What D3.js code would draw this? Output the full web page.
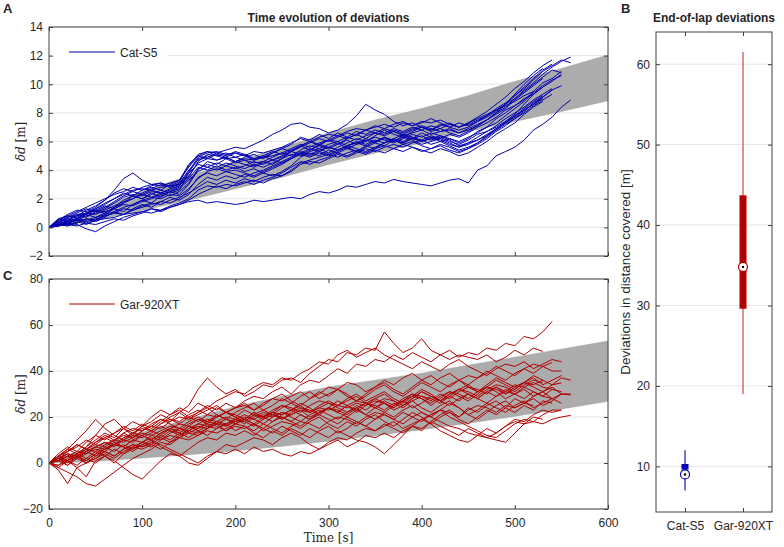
<!DOCTYPE html>
<html>
<head>
<meta charset="utf-8">
<script src="https://cdn.jsdelivr.net/npm/d3@7"></script>
<style>
  body { margin: 0; background: #fff; }
  text { font-family: "Liberation Sans", Arial, sans-serif; fill: #262626; }
</style>
</head>
<body>
<div id="chart"></div>
<script>
// sample times (s) shared by every trace, one sample each 10 s
var timeGrid = [0,10,20,30,40,50,60,70,80,90,100,110,120,130,140,150,160,170,180,190,
  200,210,220,230,240,250,260,270,280,290,300,310,320,330,340,350,360,370,380,390,
  400,410,420,430,440,450,460,470,480,490,500,510,520,530,540,550,560,570];

// grey envelope (time, lower, upper)
var bandTimes = [0,50,100,150,200,250,300,350,400,450,500,550,600];
var catLow  = [0,0.5,1.2,1.9,2.7,3.5,4.4,5.2,5.9,6.7,7.4,8.1,8.85];
var catHigh = [0,1.2,2.5,3.6,4.6,5.6,6.6,7.5,8.3,9.2,10.2,11.1,12.05];
var garLow  = [0,0.8,2.2,3.6,5.3,7.3,9.5,12,14.5,17.3,20.3,23.5,26.8];
var garHigh = [0,7.5,13.5,19,24.5,29,33,36,39,42.5,46,49.5,53];

// Cat-S5 deviation traces [m]
var catTraces = [
  [0,0.4,0.7,0.9,1.0,1.3,1.6,2.0,2.3,2.6,2.7,2.6,2.8,2.9,3.0,3.9,4.9,5.2,5.3,5.1,5.2,5.0,5.3,5.2,5.4,5.6,5.9,6.2,6.0,6.3,6.5,6.4,6.7,6.9,6.8,7.0,7.2,7.0,7.3,7.1,7.4,7.3,7.5,7.2,7.0,7.3,7.6,7.9,8.2,8.6,9.0,9.6,10.1,10.7,11.2,11.6,11.9],
  [0,0.2,0.5,0.8,1.2,1.5,1.9,2.4,2.7,2.5,2.8,3.0,2.9,3.1,3.3,4.2,5.0,5.3,5.2,5.4,5.6,5.5,5.8,6.1,6.5,6.8,7.2,7.3,7.0,6.9,6.6,6.8,7.2,7.8,8.6,8.2,7.9,7.4,7.1,7.3,7.0,6.8,7.1,7.3,7.0,7.2,7.5,7.8,8.3,8.7,9.2,9.8,10.4,11.0,11.4],
  [0,0.1,0.2,0.1,0.3,0.5,0.6,0.7,0.9,1.0,1.1,1.0,1.2,1.4,1.6,1.8,1.9,1.7,1.8,1.7,1.6,1.7,1.9,1.8,1.9,2.0,2.1,2.0,2.3,2.5,2.4,2.6,2.9,2.8,3.0,3.2,3.1,3.35,3.2,3.1,3.0,2.9,3.1,3.3,3.4,3.1,4.0,4.3,5.0,5.3,5.6,6.1,6.8,7.2,7.7,8.4,8.9],
  [0,0.3,0.6,0.5,0.8,1.0,1.3,1.7,2.1,2.3,2.2,2.5,2.4,2.6,2.9,3.6,4.5,4.8,4.7,4.9,4.6,4.8,4.7,4.9,5.0,5.2,5.5,5.8,5.6,5.9,6.1,6.0,6.3,6.1,6.4,6.6,6.5,6.8,6.6,6.9,7.1,6.9,6.7,6.8,6.6,6.9,7.2,7.5,7.9,8.3,8.9,9.4,9.9,10.4],
  [0,0.5,0.9,1.2,1.1,1.4,1.9,2.6,3.4,3.8,3.3,3.0,3.1,2.8,3.0,3.5,4.6,5.1,5.0,4.8,4.9,4.7,4.5,4.6,4.9,5.2,5.0,5.4,5.7,5.5,5.8,6.0,5.7,5.9,6.2,6.0,6.3,6.1,5.9,6.2,6.4,6.1,6.3,6.0,5.8,6.1,6.5,6.7,7.0,7.4,7.9,8.6,9.3,9.8,10.2,10.7],
  [0,0.1,0.3,0.2,-0.1,-0.3,0.1,0.4,0.7,0.9,1.1,1.3,1.2,1.5,1.7,2.0,2.6,2.9,2.8,3.0,2.9,3.1,3.3,3.1,3.4,3.6,3.9,4.4,4.6,4.5,4.8,5.1,4.9,5.2,5.5,5.3,5.6,5.8,5.6,5.9,6.1,5.8,6.0,5.7,5.4,5.6,5.9,6.3,6.8,7.2,7.6,8.1,8.7,9.1,9.6,9.9],
  [0,0.4,0.6,0.8,1.0,0.9,1.2,1.5,1.8,2.0,2.3,2.1,2.4,2.2,2.5,3.1,4.1,4.4,4.2,4.5,4.3,4.1,4.4,4.2,4.5,4.8,5.1,5.0,5.3,5.5,5.2,5.6,5.9,6.2,6.0,6.4,6.8,6.5,6.3,6.7,7.0,6.8,7.2,7.0,7.3,7.1,7.4,7.8,8.2,8.5,8.8,9.2,9.5],
  [0,0.2,0.4,0.6,0.5,0.7,0.9,1.1,1.4,1.6,1.9,2.1,2.0,2.3,2.2,2.7,3.4,3.9,4.1,3.9,4.0,3.8,3.6,3.9,4.2,4.5,4.8,5.2,5.5,5.3,5.6,5.4,5.7,6.0,5.8,6.1,5.9,6.2,6.5,6.3,6.0,6.2,6.4,6.1,5.7,5.9,6.3,6.7,7.1,7.6,8.0,8.4,8.9,9.3,9.7],
  [0,0.6,0.8,0.7,1.0,1.2,1.5,1.3,1.7,2.0,2.4,2.7,3.0,2.8,3.1,4.0,4.7,4.9,5.2,5.0,5.3,5.1,4.8,5.0,4.7,4.9,5.3,5.6,5.9,6.2,6.0,6.3,6.6,6.4,6.8,7.1,6.9,7.2,7.4,7.1,7.3,7.6,7.3,7.0,6.8,7.0,7.4,7.7,8.1,8.6,9.2,9.7,10.3,10.9,11.3,11.7,11.5],
  [0,0.2,0.1,0.3,0.6,0.5,0.8,1.0,1.3,1.2,1.5,1.7,1.6,1.9,2.1,2.4,2.8,3.2,3.0,3.3,3.1,3.4,3.2,3.5,3.7,3.6,4.0,4.5,4.7,4.9,5.1,4.9,5.2,5.4,5.2,5.5,5.7,5.5,5.8,5.6,5.3,5.5,5.7,5.4,5.2,5.5,5.8,6.2,6.7,7.1,7.6,8.0,8.5,8.9,9.3],
  [0,0.3,0.7,1.0,1.3,1.1,1.4,1.8,2.2,2.5,2.3,2.6,2.4,2.7,2.9,3.8,4.4,4.2,4.5,4.3,4.6,4.4,4.2,4.5,4.7,5.0,5.3,5.1,5.4,5.7,5.5,5.8,6.1,5.8,6.0,6.3,6.1,5.9,6.2,6.5,6.3,6.6,6.4,6.2,6.0,6.3,6.6,7.0,7.3,7.8,8.3,8.8,9.4,9.9,10.3,10.6],
  [0,0.1,0.4,0.6,0.9,1.2,1.1,1.3,1.6,1.5,1.8,2.0,2.3,2.5,2.7,3.3,3.9,4.2,4.0,4.3,4.1,4.3,4.6,4.4,4.7,4.5,4.8,5.2,5.0,5.3,5.1,5.4,5.7,5.5,5.3,5.6,5.9,6.1,5.9,6.2,6.0,6.3,6.1,5.8,5.6,5.9,6.1,6.4,6.9,7.3,7.8,8.2,8.6,9.0],
  [0,0.5,0.8,1.1,1.4,1.7,2.0,2.3,2.5,2.8,2.6,2.9,3.1,2.9,3.2,4.3,5.1,5.3,5.0,5.2,4.9,5.1,4.8,5.0,5.3,5.1,5.4,5.7,6.0,5.8,6.1,6.4,6.2,6.5,6.8,6.6,6.9,6.7,6.4,6.6,6.8,6.5,6.7,6.9,6.6,6.8,7.1,7.5,8.0,8.6,9.3,10.0,10.6,11.1],
  [0,0.2,0.3,0.5,0.4,0.6,0.8,1.0,0.9,1.2,1.4,1.6,1.8,1.7,2.0,2.6,3.5,3.8,3.6,3.9,3.7,3.5,3.8,4.0,4.3,4.6,4.9,5.3,5.1,5.4,5.6,5.4,5.7,5.9,5.7,6.0,6.2,6.0,6.3,6.1,5.8,6.0,6.2,5.9,5.6,5.8,6.1,6.5,6.9,7.3,7.7,8.2,8.6,9.1,9.6],
  [0,0.3,0.1,0.4,0.2,0.5,0.9,1.3,1.1,1.6,1.9,1.7,2.2,2.5,2.3,3.0,4.0,4.6,4.4,4.8,4.5,4.7,4.3,4.6,4.4,4.8,5.3,5.7,5.4,5.8,5.6,5.9,5.5,5.8,6.1,5.9,6.3,6.0,6.4,6.2,6.6,6.3,6.0,6.2,5.9,6.2,6.7,7.0,7.6,8.0,8.5,8.9,9.5,10.1,10.4,10.9],
  [0,0.6,0.4,0.9,0.7,1.1,1.0,1.4,1.9,2.2,2.0,2.4,2.1,2.5,2.8,3.4,4.2,4.0,4.3,4.0,4.2,3.9,4.1,3.8,4.1,4.4,4.8,5.1,4.9,5.2,5.0,5.3,5.6,5.3,5.7,5.5,5.9,6.2,6.0,6.3,6.1,6.4,6.2,6.5,6.3,6.6,7.0,7.3,7.7,8.2,8.5,9.0,9.3,9.8],
  [0,0.2,0.5,0.3,0.6,0.4,0.7,1.1,0.9,1.3,1.6,1.4,1.8,2.1,1.9,2.3,3.0,3.5,3.3,3.6,3.4,3.7,3.5,3.8,3.6,3.9,4.3,4.9,5.2,5.0,5.4,5.2,5.5,5.3,5.6,5.9,5.7,6.1,5.8,6.0,5.7,5.5,5.8,5.6,5.3,5.5,5.9,6.4,6.8,7.4,7.8,8.3,8.8,9.2],
  [0,0.4,0.2,0.6,0.9,0.7,1.0,1.4,1.7,2.2,2.0,2.3,2.6,2.4,2.6,3.8,4.8,5.0,4.7,4.9,4.6,4.9,5.1,4.8,5.2,5.5,5.3,5.7,6.0,5.7,6.1,5.8,6.2,6.5,6.2,6.6,6.4,6.7,6.5,6.8,7.0,6.7,6.9,6.6,6.4,6.7,7.1,7.5,8.0,8.4,9.0,9.5,10.0,10.5,11.0,10.8],
  [0,0.1,0.3,0.5,0.3,0.2,0.4,0.6,0.5,0.8,1.0,1.3,1.1,1.4,1.6,1.9,2.3,2.6,2.9,2.7,3.0,3.2,3.0,3.3,3.5,3.8,4.2,4.6,4.4,4.7,4.9,5.2,5.0,5.3,5.1,5.4,5.2,5.5,5.3,5.6,5.4,5.2,5.5,5.3,5.0,5.2,5.6,6.0,6.5,6.9,7.3,7.9,8.4,8.8],
  [0,0.5,0.8,0.6,1.0,1.3,1.7,2.0,2.4,2.2,2.6,2.8,2.6,3.0,3.3,4.4,5.0,4.8,5.1,4.9,5.2,5.0,4.7,4.9,5.2,5.5,5.8,6.3,6.1,6.5,6.2,6.6,6.3,6.7,6.5,6.8,6.6,6.9,6.7,7.0,6.8,7.1,6.9,7.2,7.0,7.3,7.7,8.1,8.6,9.1,9.7,10.2,10.8,11.3,11.7]
];

// Gar-920XT deviation traces [m]
var garTraces = [
  [0,2,4,3,6,8,7,10,12,11,14,16,15,18,20,19,22,25,23,26,24,27,29,28,31,33,30,34,36,35,38,41,39,43,42,45,44,47,45,48,46,44,47,49,46,48,47,50,49,52,51,55,54,57,61.5],
  [0,3,5,8,6,9,11,9,13,15,14,17,19,18,22,25,32,37,33,30,32,29,31,34,33,36,37,35,39,42,45,44,48,47,50,49,57,52,48,50,54,49,47,45,47,46,45,47,44,46,49,47,50,48.5],
  [0,-1,2,4,7,12,17,19,15,13,16,20,23,21,24,22,26,24,27,29,31,30,33,35,34,37,36,39,41,44,43,47,49,46,48,50,47,45,43,41,44,42,40,43,45,42,40,38,41,43,42,44,41,43,45,44],
  [0,3,6,10,14,19,15,12,10,13,15,14,17,19,18,21,23,21,20,22,24,25,23,26,28,27,29,31,28,30,33,32,35,34,31,33,36,34,37,39,36,38,35,33,36,38,37,40,38,36,39,41,39,42,40,40],
  [0,-2,-4,-6,-9,-10,-7,-4,-1,2,4,6,9,8,11,13,12,15,17,16,18,19,17,20,22,21,23,25,22,24,26,25,27,29,26,28,30,27,25,28,31,29,27,30,32,30,28,26,29,31,30,32,29,31,33,30,30],
  [0,-3,-9,-2,-6,1,3,0,4,6,8,7,10,12,11,14,16,15,18,17,19,18,21,20,22,19,21,23,20,22,24,22,25,23,21,24,26,23,25,27,24,22,25,27,24,21,23,26,24,22,25,27,24,26,28,26],
  [0,2,1,4,2,5,3,1,-2,-5,-7,-3,1,4,3,6,9,11,10,13,12,14,12,15,13,16,14,12,15,13,11,14,12,10,9,7,4,8,12,16,14,18,21,23,20,24,22,25,27,24,28,26,29,31,28,30],
  [0,1,-1,2,0,3,5,3,6,8,7,9,8,6,4,2,0,3,5,4,6,4,7,5,6,4,3,5,4,6,8,10,7,9,12,11,13,11,14,16,15,18,16,14,12,15,13,11,10,9,13,17,18,17,19,20,20.7],
  [0,2,4,3,1,4,6,8,7,5,8,10,7,5,3,0,-1,2,5,8,7,9,11,10,8,11,13,11,8,6,9,11,10,13,15,14,16,18,15,17,19,21,23,20,18,16,14,12,11,14,17,19,18,21,23,23],
  [0,3,5,8,6,9,12,10,13,11,14,16,19,17,15,18,20,18,21,19,17,19,22,20,18,21,23,21,19,22,24,22,20,23,26,24,22,25,27,24,26,29,27,25,28,30,28,31,33,30,32,35,33,31,34,34.8],
  [0,4,7,5,9,12,10,13,16,14,17,15,18,21,23,20,22,24,21,19,22,24,26,23,25,28,26,29,31,28,30,32,29,27,30,33,35,32,30,33,36,34,37,39,36,34,37,39,42,40,38,41,43,42,43.7],
  [0,1,3,5,4,7,9,7,10,12,11,13,16,14,12,15,17,19,18,16,19,21,19,17,20,22,20,18,21,23,21,19,22,24,21,19,22,20,23,25,22,20,23,26,24,21,19,22,25,27,24,26,28,25,27,30,29.6],
  [0,2,0,3,5,3,6,9,7,10,12,10,13,15,17,16,19,17,20,22,20,18,21,23,21,24,26,24,22,25,27,25,28,30,27,29,31,28,26,29,32,30,27,29,32,34,31,33,36,34,32,35,37,34,36,38],
  [0,-1,1,-2,0,2,4,2,5,7,6,8,11,9,12,14,13,15,17,14,16,15,17,14,16,18,17,15,18,20,17,15,18,16,19,21,18,16,19,22,20,17,20,22,19,17,20,23,21,24,22,25,23,27,26],
  [0,2,5,7,10,8,11,13,15,12,16,18,21,19,17,20,18,21,24,22,20,23,21,19,22,25,23,26,24,21,24,27,25,22,25,28,26,24,27,30,28,25,28,31,29,27,30,33,31,28,30,33,31,29,32,31],
  [0,3,6,4,7,10,13,11,15,18,16,14,17,20,22,19,21,23,25,22,24,26,23,25,28,30,27,25,28,31,29,32,30,27,29,32,34,31,29,32,35,33,31,34,36,33,31,34,37,35,33,35,38,36,34,37,36],
  [0,1,3,2,5,7,6,8,10,9,12,14,12,15,13,16,14,12,15,17,14,16,13,11,14,12,15,13,11,14,16,13,15,18,16,14,17,15,13,16,19,17,14,12,10,9,12,15,13,16,18,17,20,19],
  [0,2,1,4,6,5,8,10,9,11,13,12,14,16,15,13,15,17,16,14,17,19,17,15,18,20,18,16,19,21,19,17,20,18,16,19,21,19,17,20,22,20,18,16,15,13,12,11,13,16,19,18,21,23,22,23],
  [0,1,3,2,4,6,5,8,7,10,9,12,11,14,13,16,15,18,17,19,18,20,19,21,20,22,21,23,22,24,23,25,24,26,25,27,26,24,27,29,28,26,29,31,30,28,31,33,32,30,33,35,34,36],
  [0,2,-1,3,1,4,7,5,8,6,9,11,10,13,15,14,17,16,18,20,19,17,20,22,21,19,22,24,23,21,24,22,25,27,26,24,27,25,28,30,29,27,30,28,31,33,32,30,33,31,34,33,35,33,32],
  [0,-2,1,3,0,2,5,3,6,8,7,9,12,10,13,11,14,16,15,17,19,18,16,19,21,20,18,21,19,22,24,23,21,24,26,25,23,26,24,27,29,28,26,29,27,30,28,31,29,32,30,28,31,29,28],
  [0,1,4,2,5,7,9,8,11,13,12,10,13,15,14,17,19,18,20,22,21,19,22,20,23,25,24,22,25,27,26,24,22,25,23,26,28,27,25,28,31,29,27,30,32,31,29,32,34,33,31,34,36,35],
  [0,3,1,-1,2,0,3,6,4,7,9,8,6,9,11,10,12,14,13,15,17,16,14,17,15,13,16,18,17,15,18,20,19,17,20,22,21,19,22,20,18,21,23,22,20,23,25,24,22,25,24,26,25]
];

// end-of-lap summary (box plot)
var boxCategories = ["Cat-S5", "Gar-920XT"];
var boxMin    = [7, 19];
var boxQ1     = [9.6, 29.6];
var boxQ3     = [10.3, 43.7];
var boxMax    = [12, 61.5];
var boxMedian = [9, 34.8];

var xTicks  = [0,100,200,300,400,500,600];
var yTicksA = [-2,0,2,4,6,8,10,12,14];
var yTicksC = [-20,0,20,40,60,80];
var yTicksB = [10,20,30,40,50,60];

var blue = "#0000b0", red = "#b00000";
var axisColor = "#404040", gridColor = "#e6e6e6";

var svg = d3.select("#chart").append("svg")
  .attr("width", 784).attr("height", 547);

var x = d3.scaleLinear().domain([0, 600]).range([49, 608]);

function drawFrame(g, xs, ys, yTicks, xTickVals, showXLabels, xFormat) {
  var x0 = xs.range()[0], x1 = xs.range()[1];
  var y0 = ys.range()[0], y1 = ys.range()[1];
  var left = g.append("g").attr("transform", "translate(" + x0 + ",0)")
    .call(d3.axisLeft(ys).tickValues(yTicks).tickSize(-4).tickPadding(6));
  var right = g.append("g").attr("transform", "translate(" + x1 + ",0)")
    .call(d3.axisRight(ys).tickValues(yTicks).tickSize(-4).tickFormat(""));
  var bottom = g.append("g").attr("transform", "translate(0," + y0 + ")")
    .call(d3.axisBottom(xs).tickValues(xTickVals).tickSize(-4).tickPadding(9)
      .tickFormat(showXLabels ? xFormat : ""));
  var top = g.append("g").attr("transform", "translate(0," + y1 + ")")
    .call(d3.axisTop(xs).tickValues(xTickVals).tickSize(-4).tickFormat(""));
  [left, right, bottom, top].forEach(function(a) {
    a.select(".domain").remove();
    a.selectAll("line").attr("stroke", axisColor);
    a.selectAll("text").style("font-size", "12px").attr("fill", "#262626");
  });
  g.append("rect")
    .attr("x", x0).attr("y", y1)
    .attr("width", x1 - x0).attr("height", y0 - y1)
    .attr("fill", "none").attr("stroke", axisColor).attr("stroke-width", 1);
}

function drawGrid(g, xs, ys, yTicks) {
  g.selectAll(null).data(yTicks).enter().append("line")
    .attr("x1", xs.range()[0]).attr("x2", xs.range()[1])
    .attr("y1", function(d) { return ys(d); })
    .attr("y2", function(d) { return ys(d); })
    .attr("stroke", gridColor).attr("stroke-width", 1);
}

function drawTimePanel(yDomain, yRange, yTicks, low, high, traces, color, legendLabel, showXLabels) {
  var y = d3.scaleLinear().domain(yDomain).range(yRange);
  var g = svg.append("g");
  drawGrid(g, x, y, yTicks);

  var area = d3.area()
    .x(function(d, i) { return x(bandTimes[i]); })
    .y0(function(d, i) { return y(low[i]); })
    .y1(function(d, i) { return y(high[i]); });
  g.append("path").datum(low).attr("d", area)
    .attr("fill", "#acacac").attr("stroke", "#9a9a9a").attr("stroke-width", 0.5);

  var line = d3.line()
    .x(function(d, i) { return x(timeGrid[i]); })
    .y(function(d) { return y(d); });
  g.selectAll(null).data(traces).enter().append("path")
    .attr("d", line)
    .attr("fill", "none").attr("stroke", color)
    .attr("stroke-width", 1).attr("stroke-linejoin", "round");

  // legend
  var ly = y.range()[1];
  g.append("rect").attr("x", 52).attr("y", ly + 12).attr("width", 115).attr("height", 30)
    .attr("fill", "#fff");
  g.append("line").attr("x1", 69).attr("x2", 115).attr("y1", ly + 25).attr("y2", ly + 25)
    .attr("stroke", color).attr("stroke-width", 1);
  g.append("text").attr("x", 120).attr("y", ly + 29.5).style("font-size", "12px")
    .text(legendLabel);

  drawFrame(g, x, y, yTicks, xTicks, showXLabels, d3.format("d"));

  // y label
  var cy = (yRange[0] + yRange[1]) / 2;
  var lab = g.append("text")
    .attr("transform", "translate(25," + cy + ") rotate(-90)")
    .attr("text-anchor", "middle")
    .style("font-family", "'DejaVu Serif', 'Liberation Serif', serif")
    .style("font-size", "12px").attr("fill", "#404040");
  lab.append("tspan").style("font-style", "italic").text("δd");
  lab.append("tspan").text(" [m]");
  return g;
}

drawTimePanel([-2, 14], [256, 27], yTicksA, catLow, catHigh, catTraces, blue, "Cat-S5", false);
drawTimePanel([-20, 80], [509, 279], yTicksC, garLow, garHigh, garTraces, red, "Gar-920XT", true);

// titles and panel letters
svg.append("text").attr("x", 328.5).attr("y", 22).attr("text-anchor", "middle")
  .style("font-size", "12px").style("font-weight", "bold").attr("fill", "#000")
  .text("Time evolution of deviations");
svg.append("text").attr("x", 328.5).attr("y", 542).attr("text-anchor", "middle")
  .style("font-family", "'DejaVu Serif', 'Liberation Serif', serif")
  .style("font-size", "12px").attr("fill", "#404040").text("Time [s]");
[["A", 3, 13], ["C", 3, 280], ["B", 621, 13]].forEach(function(p) {
  svg.append("text").attr("x", p[1]).attr("y", p[2])
    .style("font-size", "13px").style("font-weight", "bold").attr("fill", "#000").text(p[0]);
});

// panel B: box plot
var xb = d3.scaleLinear().domain([0.5, 2.5]).range([656, 772]);
var yb = d3.scaleLinear().domain([4.33, 64]).range([512, 32]);
var gb = svg.append("g");
drawGrid(gb, xb, yb, yTicksB);
var boxColors = [blue, red], whiskerColors = ["#4444c4", "#d46b6b"];
boxCategories.forEach(function(c, i) {
  var cx = xb(i + 1);
  gb.append("line").attr("x1", cx).attr("x2", cx)
    .attr("y1", yb(boxMin[i])).attr("y2", yb(boxMax[i]))
    .attr("stroke", whiskerColors[i]).attr("stroke-width", 1.5);
  gb.append("rect").attr("x", cx - 3.5).attr("width", 7)
    .attr("y", yb(boxQ3[i])).attr("height", yb(boxQ1[i]) - yb(boxQ3[i]))
    .attr("fill", boxColors[i]);
  gb.append("circle").attr("cx", cx).attr("cy", yb(boxMedian[i])).attr("r", 4.5)
    .attr("fill", "#fff").attr("stroke", boxColors[i]).attr("stroke-width", 1.2);
  gb.append("circle").attr("cx", cx).attr("cy", yb(boxMedian[i])).attr("r", 1.2)
    .attr("fill", "#000");
});
drawFrame(gb, xb, yb, yTicksB, [1, 2], true, function(d) { return boxCategories[d - 1]; });
svg.append("text").attr("x", 714).attr("y", 22).attr("text-anchor", "middle")
  .style("font-size", "12px").style("font-weight", "bold").attr("fill", "#000")
  .text("End-of-lap deviations");
svg.append("text")
  .attr("transform", "translate(630,272) rotate(-90)")
  .attr("text-anchor", "middle").style("font-size", "13.5px")
  .text("Deviations in distance covered [m]");
</script>
</body>
</html>
